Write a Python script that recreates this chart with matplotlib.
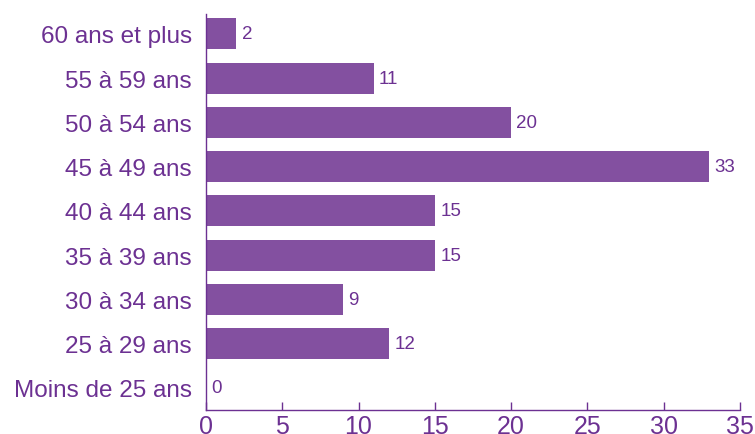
import matplotlib
matplotlib.use("Agg")
import matplotlib.pyplot as plt

plt.rcParams['font.family'] = ['Liberation Sans', 'DejaVu Sans']

age_groups = ["Moins de 25 ans", "25 à 29 ans", "30 à 34 ans", "35 à 39 ans",
              "40 à 44 ans", "45 à 49 ans", "50 à 54 ans", "55 à 59 ans",
              "60 ans et plus"]
counts = [0, 12, 9, 15, 15, 33, 20, 11, 2]
x_ticks = [0, 5, 10, 15, 20, 25, 30, 35]

bar_color = "#8350a0"
text_color = "#6c3192"

fig = plt.figure(figsize=(7.55, 4.35), dpi=100)
ax = fig.add_axes([0.2728, 0.0552, 0.7072, 0.9103])

pos = range(len(age_groups))
ax.barh(pos, counts, height=0.7, color=bar_color)
for y, v in zip(pos, counts):
    ax.text(v + 0.35, y, str(v), va="center", ha="left",
            fontsize=13.5, color=text_color)

ax.set_xlim(0, 35)
ax.set_ylim(-0.5, 8.45)
ax.set_yticks(list(pos))
ax.set_yticklabels(age_groups, fontsize=17.5, color=text_color)
ax.set_xticks(x_ticks)
ax.set_xticklabels([str(t) for t in x_ticks], fontsize=18, color=text_color)

ax.tick_params(axis="y", length=0, pad=10)
ax.tick_params(axis="x", direction="in", length=6, width=1,
               color=text_color, pad=3)
for side in ("top", "right"):
    ax.spines[side].set_visible(False)
for side in ("left", "bottom"):
    ax.spines[side].set_color(text_color)
    ax.spines[side].set_linewidth(1)

fig.savefig("out.png", dpi=100)
